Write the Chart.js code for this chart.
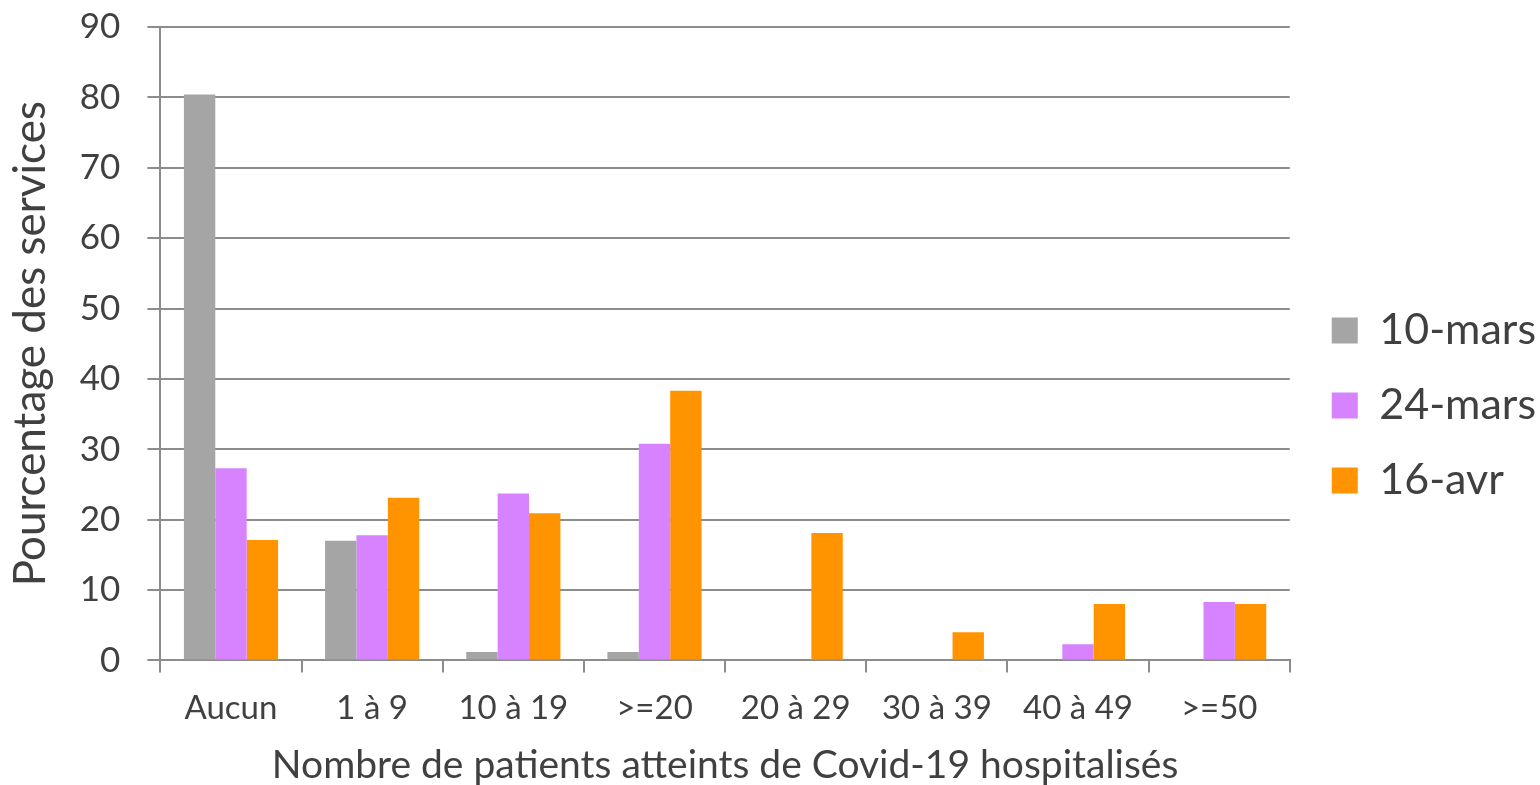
<!DOCTYPE html>
<html>
<head>
<meta charset="utf-8">
<script src="https://cdn.jsdelivr.net/npm/chart.js@4.4.0/dist/chart.umd.min.js"></script>
<style>
  html, body { margin: 0; padding: 0; background: #fff; }
  #wrap { width: 1540px; height: 785px; position: relative; }
</style>
</head>
<body>
<div id="wrap"><canvas id="chart"></canvas></div>
<script>
// Data
const categories = ['Aucun', '1 à 9', '10 à 19', '>=20', '20 à 29', '30 à 39', '40 à 49', '>=50'];
const seriesLabels = ['10-mars', '24-mars', '16-avr'];
const mars10 = [80.4, 17.0, 1.2, 1.2, 0, 0, 0, 0];
const mars24 = [27.3, 17.8, 23.7, 30.8, 0, 0, 2.3, 8.3];
const avr16 = [17.1, 23.1, 20.9, 38.3, 18.1, 4.0, 8.0, 8.0];
const yTicks = [0, 10, 20, 30, 40, 50, 60, 70, 80, 90];

const colors = ['#A5A5A5', '#D783FF', '#FF9300'];
const textColor = '#404040';
const gridColor = '#8c8c8c';
const fontFamily = 'Lato, "Open Sans", sans-serif';

const datasets = [mars10, mars24, avr16].map((values, i) => ({
    label: seriesLabels[i],
    data: values,
    backgroundColor: colors[i],
    borderWidth: 0,
    categoryPercentage: 0.667,
    barPercentage: 1.0
}));

// nudge the legend block a bit right and down, like the original
const legendShift = {
    id: 'legendShift',
    afterLayout(chart) {
        const lg = chart.legend;
        lg.left += 10; lg.right += 10;
        lg.top += 13; lg.bottom += 13;
    }
};

const ctx = document.getElementById('chart').getContext('2d');
new Chart(ctx, {
    type: 'bar',
    data: { labels: categories, datasets },
    plugins: [legendShift],
    options: {
        responsive: true,
        maintainAspectRatio: false,
        animation: false,
        layout: { padding: { top: 0, left: 4, right: 4, bottom: 0 } },
        plugins: {
            tooltip: { enabled: false },
            legend: {
                position: 'right',
                align: 'center',
                labels: {
                    color: textColor,
                    font: { family: fontFamily, size: 43 },
                    boxWidth: 26,
                    boxHeight: 26,
                    padding: 32
                }
            }
        },
        scales: {
            y: {
                min: 0,
                max: 90,
                afterBuildTicks: axis => { axis.ticks = yTicks.map(v => ({ value: v })); },
                afterFit: axis => { axis.paddingTop = 27; axis.paddingBottom = 0; },
                grid: { color: gridColor, lineWidth: 2, tickLength: 13, drawTicks: true },
                border: { color: gridColor, width: 2 },
                ticks: { color: textColor, font: { family: fontFamily, size: 35 }, padding: 27 },
                title: {
                    display: true,
                    text: 'Pourcentage des services',
                    color: textColor,
                    font: { family: fontFamily, size: 44 },
                    padding: { top: 0, bottom: -4 }
                }
            },
            x: {
                grid: { drawOnChartArea: false, drawTicks: true, tickLength: 12, color: gridColor, lineWidth: 2 },
                border: { color: gridColor, width: 2 },
                ticks: { color: textColor, font: { family: fontFamily, size: 33 }, padding: 16, maxRotation: 0 },
                title: {
                    display: true,
                    text: 'Nombre de patients atteints de Covid-19 hospitalisés',
                    color: textColor,
                    font: { family: fontFamily, size: 39, lineHeight: 1.0 },
                    padding: { top: 2, bottom: 0 }
                }
            }
        }
    }
});
</script>
</body>
</html>
